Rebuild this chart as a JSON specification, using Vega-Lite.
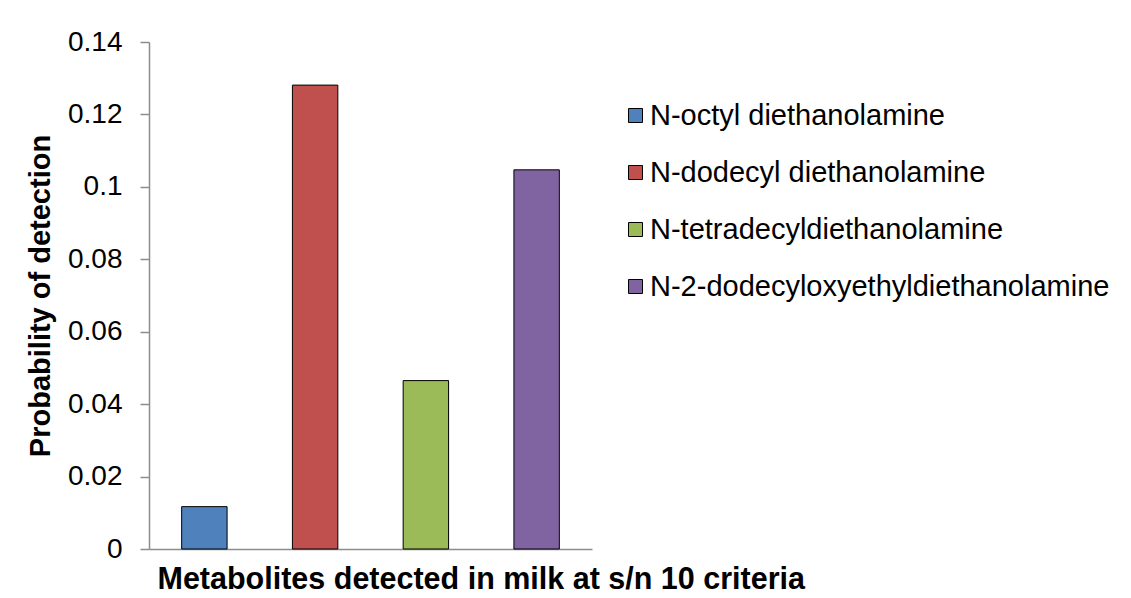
{
  "$schema": "https://vega.github.io/schema/vega-lite/v6.json",
  "width": 443,
  "height": 507,
  "autosize": {"type": "none"},
  "padding": {"left": 149, "top": 42, "right": 539, "bottom": 49},
  "background": "white",
  "data": {
    "values": [
      {"metabolite": "N-octyl diethanolamine", "probability": 0.0117},
      {"metabolite": "N-dodecyl diethanolamine", "probability": 0.1281},
      {"metabolite": "N-tetradecyldiethanolamine", "probability": 0.0465},
      {"metabolite": "N-2-dodecyloxyethyldiethanolamine", "probability": 0.1047}
    ]
  },
  "mark": {"type": "bar", "stroke": "black", "strokeWidth": 1},
  "encoding": {
    "x": {
      "field": "metabolite",
      "type": "nominal",
      "sort": null,
      "scale": {"paddingInner": 0.59, "paddingOuter": 0.295},
      "axis": {
        "title": "Metabolites detected in milk at s/n 10 criteria",
        "labels": false,
        "ticks": false,
        "domainColor": "#8c8c8c",
        "domainWidth": 1.5,
        "titleFont": "Liberation Sans",
        "titleFontSize": 30.5,
        "titleFontWeight": "bold",
        "titleColor": "black",
        "titleAnchor": "start",
        "titleAlign": "left",
        "titleX": 8,
        "titlePadding": 15
      }
    },
    "y": {
      "field": "probability",
      "type": "quantitative",
      "scale": {"domain": [0, 0.14], "nice": false},
      "axis": {
        "title": "Probability of detection",
        "values": [0, 0.02, 0.04, 0.06, 0.08, 0.1, 0.12, 0.14],
        "format": "~g",
        "grid": false,
        "domainColor": "#8c8c8c",
        "domainWidth": 1.5,
        "tickColor": "#8c8c8c",
        "tickSize": 9,
        "tickWidth": 1.5,
        "labelPadding": 18,
        "labelFont": "Liberation Sans",
        "labelFontSize": 28,
        "labelColor": "black",
        "titleFont": "Liberation Sans",
        "titleFontSize": 29,
        "titleFontWeight": "bold",
        "titleColor": "black",
        "titlePadding": 12
      }
    },
    "color": {
      "field": "metabolite",
      "type": "nominal",
      "sort": null,
      "scale": {
        "domain": ["N-octyl diethanolamine", "N-dodecyl diethanolamine", "N-tetradecyldiethanolamine", "N-2-dodecyloxyethyldiethanolamine"],
        "range": ["#4F81BD", "#C0504D", "#9BBB59", "#8064A2"]
      },
      "legend": {
        "title": null,
        "orient": "none",
        "legendX": 472,
        "legendY": 59,
        "symbolType": "square",
        "symbolSize": 196,
        "symbolStrokeColor": "black",
        "symbolStrokeWidth": 1,
        "labelFont": "Liberation Sans",
        "labelFontSize": 29,
        "labelColor": "black",
        "labelOffset": 0,
        "labelLimit": 600,
        "rowPadding": 27
      }
    }
  },
  "config": {"view": {"stroke": null}}
}
